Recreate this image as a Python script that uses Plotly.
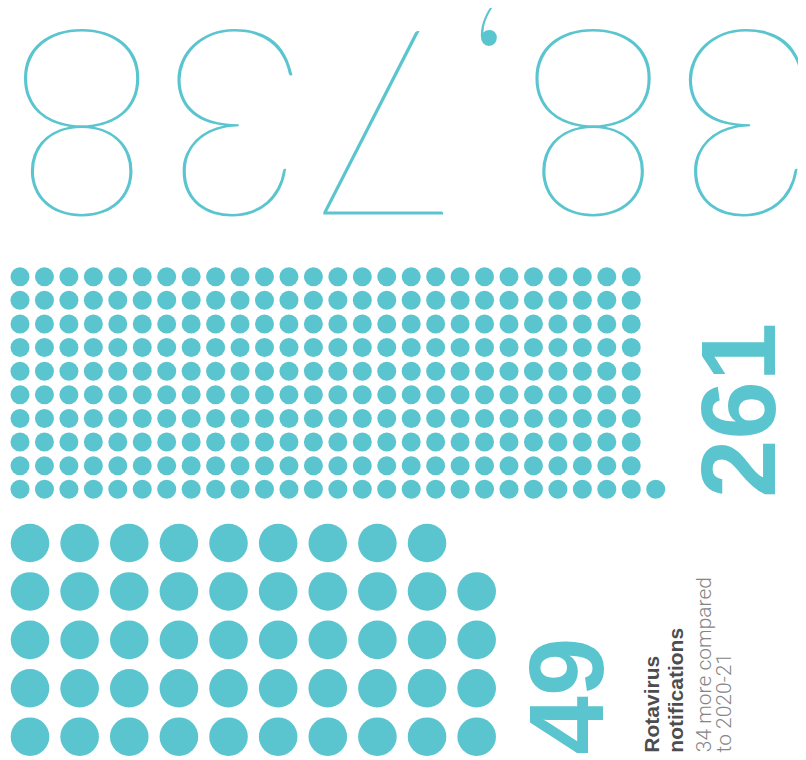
import plotly.graph_objects as go

# ---- data ----
headline_total = ["38,738"]
small_dot_count = [261]
large_dot_count = [49]
small_label = ["261"]
large_label = ["49"]
title_lines = ["Rotavirus", "notifications"]
note_lines = ["34 more compared", "to 2020-21"]

TEAL = "#5bc5cf"
DARK = "#4d4d4f"
GREY = "#858587"

W, H = 806, 760
PAD = 8  # default page margin of the html body


def grid_positions(n, rows, x0, dx, ybottom, dy):
    xs, ys = [], []
    for i in range(n):
        col, r = divmod(i, rows)
        xs.append(x0 + col * dx)
        ys.append(ybottom - r * dy)
    return xs, ys


sx, sy = grid_positions(small_dot_count[0], 10, 20.0, 24.45, 489.3, 23.62)
lx, ly = grid_positions(large_dot_count[0], 5, 30.0, 49.63, 736.7, 48.42)

fig = go.Figure()
fig.add_trace(go.Scatter(x=sx, y=sy, mode="markers", hoverinfo="skip",
                         marker=dict(size=19, color=TEAL, line=dict(width=0))))
fig.add_trace(go.Scatter(x=lx, y=ly, mode="markers", hoverinfo="skip",
                         marker=dict(size=38.6, color=TEAL, line=dict(width=0))))

ann = []
ann.append(dict(text=headline_total[0], x=414, y=133, xref="x", yref="y",
                xanchor="center", yanchor="middle", textangle=180, showarrow=False,
                font=dict(family="Lato", size=262, color=TEAL, weight=200)))
ann.append(dict(text=small_label[0], x=738, y=411, xref="x", yref="y",
                xanchor="center", yanchor="middle", textangle=-90, showarrow=False,
                font=dict(family="Liberation Sans, Arial", size=105, color=TEAL, weight=700)))
ann.append(dict(text=large_label[0], x=565.5, y=696, xref="x", yref="y",
                xanchor="center", yanchor="middle", textangle=-90, showarrow=False,
                font=dict(family="Liberation Sans, Arial", size=105, color=TEAL, weight=700)))
for t, xc in zip(title_lines, [650.7, 674.7]):
    ann.append(dict(text=t, x=xc, y=754.5, xref="x", yref="y",
                    xanchor="center", yanchor="bottom", textangle=-90, showarrow=False,
                    font=dict(family="Liberation Sans, Arial", size=21, color=DARK, weight=700)))
for t, xc in zip(note_lines, [704.2, 724.4]):
    ann.append(dict(text=t, x=xc, y=754.5, xref="x", yref="y",
                    xanchor="center", yanchor="bottom", textangle=-90, showarrow=False,
                    font=dict(family="Roboto", size=21, color=GREY, weight=300)))

fig.update_layout(
    width=W - PAD, height=H - PAD, margin=dict(l=0, r=0, t=0, b=0),
    paper_bgcolor="white", plot_bgcolor="white", showlegend=False,
    xaxis=dict(range=[PAD, W], visible=False, fixedrange=True),
    yaxis=dict(range=[H, PAD], visible=False, fixedrange=True),
    annotations=ann,
)
fig.write_html("out.html", config={"displayModeBar": False})
